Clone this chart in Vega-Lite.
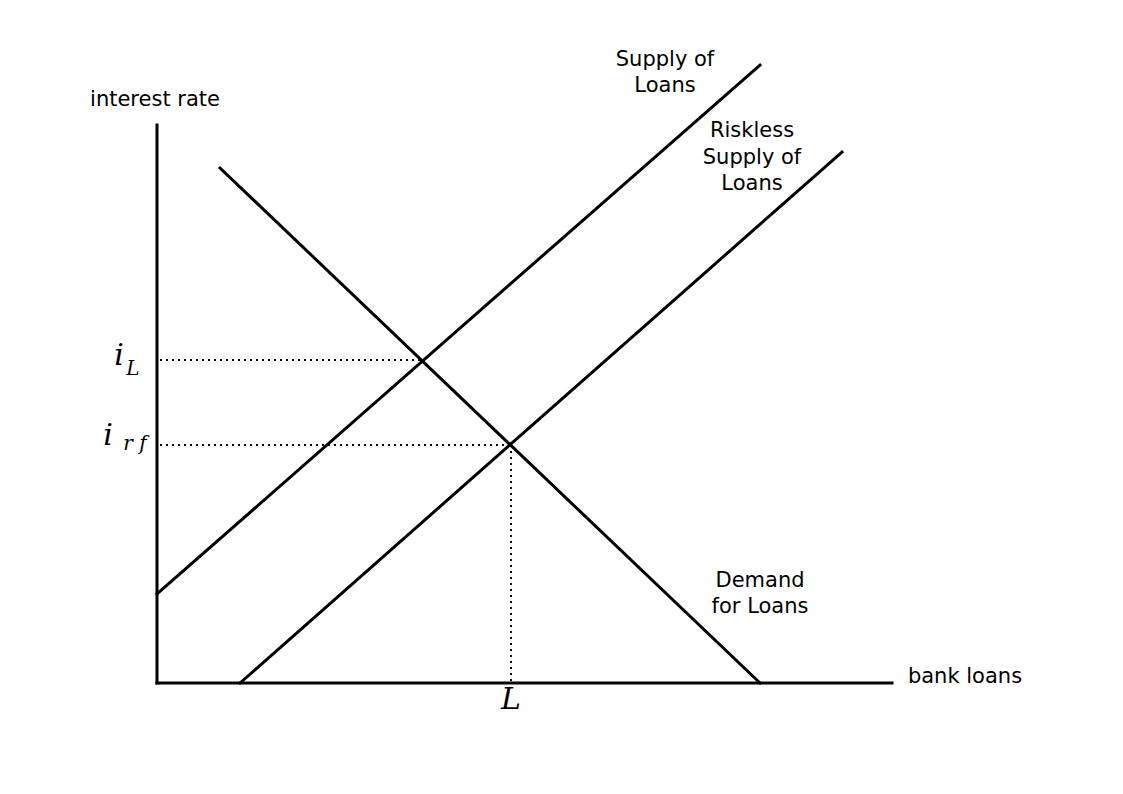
{
  "$schema": "https://vega.github.io/schema/vega-lite/v6.json",
  "width": 1123,
  "height": 794,
  "padding": 0,
  "autosize": {"type": "fit", "contains": "padding"},
  "background": "white",
  "config": {"view": {"stroke": null}},
  "datasets": {
    "solid": [
      {"series": "yaxis", "o": 0, "x": 0, "y": 558},
      {"series": "yaxis", "o": 1, "x": 0, "y": 0},
      {"series": "xaxis", "o": 0, "x": 0, "y": 0},
      {"series": "xaxis", "o": 1, "x": 735, "y": 0},
      {"series": "Supply of Loans", "o": 0, "x": 0, "y": 89},
      {"series": "Supply of Loans", "o": 1, "x": 603, "y": 618},
      {"series": "Riskless Supply of Loans", "o": 0, "x": 83, "y": 0},
      {"series": "Riskless Supply of Loans", "o": 1, "x": 685, "y": 531},
      {"series": "Demand for Loans", "o": 0, "x": 63, "y": 515},
      {"series": "Demand for Loans", "o": 1, "x": 603, "y": 0}
    ],
    "dotted": [
      {"series": "iL", "o": 0, "x": 3, "y": 323},
      {"series": "iL", "o": 1, "x": 266, "y": 323},
      {"series": "irf", "o": 0, "x": 3, "y": 238},
      {"series": "irf", "o": 1, "x": 354, "y": 238},
      {"series": "L", "o": 0, "x": 354, "y": 238},
      {"series": "L", "o": 1, "x": 354, "y": 0}
    ],
    "labels": [
      {"text": "interest rate", "x": -2, "y": 583},
      {"text": "bank loans", "x": 808, "y": 6},
      {"text": "Supply of", "x": 508, "y": 623},
      {"text": "Loans", "x": 508, "y": 597},
      {"text": "Riskless", "x": 595, "y": 552},
      {"text": "Supply of", "x": 595, "y": 525},
      {"text": "Loans", "x": 595, "y": 499},
      {"text": "Demand", "x": 603, "y": 102},
      {"text": "for Loans", "x": 603, "y": 76}
    ],
    "math": [
      {"text": "i", "x": -38, "y": 318},
      {"text": "i", "x": -49, "y": 238},
      {"text": "L", "x": 354, "y": -26}
    ],
    "sub": [
      {"text": "L", "x": -24, "y": 308},
      {"text": "r f", "x": -22, "y": 233}
    ]
  },
  "encoding": {
    "x": {"field": "x", "type": "quantitative", "scale": {"domain": [-157, 966], "zero": false, "nice": false}, "axis": null},
    "y": {"field": "y", "type": "quantitative", "scale": {"domain": [-111, 683], "zero": false, "nice": false}, "axis": null}
  },
  "layer": [
    {
      "data": {"name": "dotted"},
      "mark": {"type": "line", "color": "black", "strokeWidth": 2, "strokeDash": [2, 4]},
      "encoding": {"detail": {"field": "series"}, "order": {"field": "o"}}
    },
    {
      "data": {"name": "solid"},
      "mark": {"type": "line", "color": "black", "strokeWidth": 3, "strokeCap": "square"},
      "encoding": {"detail": {"field": "series"}, "order": {"field": "o"}}
    },
    {
      "data": {"name": "labels"},
      "mark": {"type": "text", "font": "DejaVu Sans", "fontSize": 21, "align": "center", "baseline": "middle", "color": "black"},
      "encoding": {"text": {"field": "text"}}
    },
    {
      "data": {"name": "math"},
      "mark": {"type": "text", "font": "DejaVu Serif", "fontStyle": "italic", "fontSize": 30, "align": "center", "baseline": "alphabetic", "color": "black"},
      "encoding": {"text": {"field": "text"}}
    },
    {
      "data": {"name": "sub"},
      "mark": {"type": "text", "font": "DejaVu Serif", "fontStyle": "italic", "fontSize": 20, "align": "center", "baseline": "alphabetic", "color": "black"},
      "encoding": {"text": {"field": "text"}}
    }
  ]
}
